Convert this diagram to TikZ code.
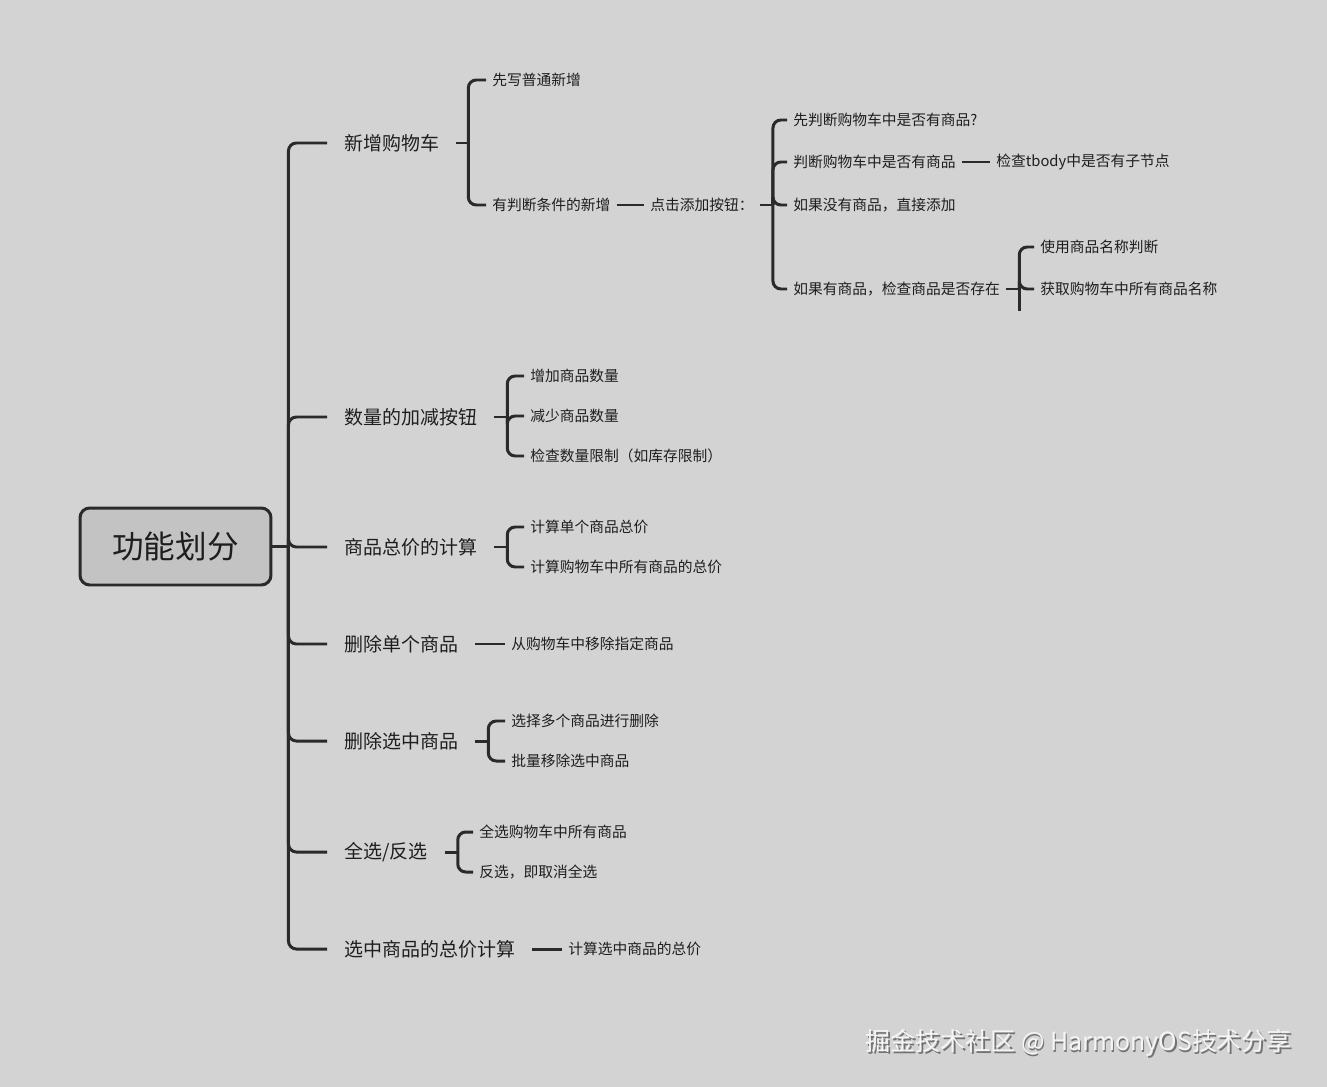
\documentclass[tikz,border=0pt]{standalone}
\usepackage{fontspec}
\setmainfont{Noto Sans CJK SC}
\usetikzlibrary{positioning}
\definecolor{bgGray}{HTML}{D3D3D3}
\definecolor{rootGray}{HTML}{C3C3C3}
\definecolor{lineDark}{HTML}{2A2A2A}
\definecolor{textDark}{HTML}{1E1E1E}

\begin{document}
\begin{tikzpicture}[x=0.02cm,y=-0.02cm,
  conn/.style={draw=lineDark,line width=1.7pt,rounded corners=4.5pt},
  rootbox/.style={draw=lineDark,line width=1.7pt,fill=rootGray,rounded corners=5.5pt,
    minimum width=3.82cm,minimum height=1.54cm,font=\fontsize{18}{20}\selectfont,text=textDark},
  topic/.style={anchor=west,inner xsep=9.6pt,inner ysep=2pt,font=\fontsize{10.8}{12}\selectfont,text=textDark},
  leaf/.style={anchor=west,inner xsep=3.4pt,inner ysep=2pt,font=\fontsize{8.4}{10}\selectfont,text=textDark}]
  \fill[bgGray] (0,0) rectangle (1327,1087);
  \useasboundingbox (0,0) rectangle (1327,1087);

  \node[rootbox] (root) at (175.5,546.5) {功能划分};

  % main branches
  \foreach \n/\y/\t in {t1/143/新增购物车,t2/417/数量的加减按钮,t3/547/商品总价的计算,
      t4/644/删除单个商品,t5/741/删除选中商品,t6/852/{全选/反选},t7/949/选中商品的总价计算}
    \node[topic] (\n) at (327,\y) {\t};
  \draw[conn] (root.east) -- ++(16,0) coordinate (trunk);
  \foreach \n in {t1,t2,t3,t4,t5,t6,t7}
    \draw[conn] (trunk) |- (\n.west);

  % 新增购物车
  \node[leaf] (a1) at (486,80) {先写普通新增};
  \node[leaf] (a2) at (486,205) {有判断条件的新增};
  \node[leaf] (a3) at (644,205) {点击添加按钮：};
  \node[leaf] (a4) at (787,120) {先判断购物车中是否有商品?};
  \node[leaf] (a5) at (787,162) {判断购物车中是否有商品};
  \node[leaf] (a6) at (990,162) {检查tbody中是否有子节点};
  \node[leaf] (a7) at (787,205) {如果没有商品，直接添加};
  \node[leaf] (a8) at (787,289) {如果有商品，检查商品是否存在};
  \node[leaf] (a9) at (1034,247) {使用商品名称判断};
  \node[leaf] (a10) at (1034,289) {获取购物车中所有商品名称};
  \draw[conn] (t1.east) -- ++(12,0) coordinate (j1);
  \foreach \c in {a1,a2} \draw[conn] (j1) |- (\c.west);
  \draw[conn] (a2.east) -- (a3.west);
  \draw[conn] (a3.east) -- ++(13,0) coordinate (j2);
  \foreach \c in {a4,a5,a7,a8} \draw[conn] (j2) |- (\c.west);
  \draw[conn] (a5.east) -- (a6.west);
  \draw[conn] (a8.east) -- ++(13,0) coordinate (j3);
  \foreach \c in {a9,a10} \draw[conn] (j3) |- (\c.west);
  \coordinate (j3tail) at ([yshift=-0.44cm]j3);
  \draw[conn] (j3) -- (j3tail);

  % 数量的加减按钮
  \node[leaf] (q1) at (524,376) {增加商品数量};
  \node[leaf] (q2) at (524,416) {减少商品数量};
  \node[leaf] (q3) at (524,456) {检查数量限制（如库存限制）};
  \draw[conn] (t2.east) -- ++(13,0) coordinate (j4);
  \foreach \c in {q1,q2,q3} \draw[conn] (j4) |- (\c.west);

  % 商品总价的计算
  \node[leaf] (s1) at (524,527) {计算单个商品总价};
  \node[leaf] (s2) at (524,567) {计算购物车中所有商品的总价};
  \draw[conn] (t3.east) -- ++(13,0) coordinate (j5);
  \foreach \c in {s1,s2} \draw[conn] (j5) |- (\c.west);

  % 删除单个商品
  \node[leaf] (d1) at (505,644) {从购物车中移除指定商品};
  \draw[conn] (t4.east) -- (d1.west);

  % 删除选中商品
  \node[leaf] (m1) at (505,721) {选择多个商品进行删除};
  \node[leaf] (m2) at (505,761) {批量移除选中商品};
  \draw[conn] (t5.east) -- ++(13,0) coordinate (j6);
  \foreach \c in {m1,m2} \draw[conn] (j6) |- (\c.west);

  % 全选/反选
  \node[leaf] (v1) at (473,832) {全选购物车中所有商品};
  \node[leaf] (v2) at (473,872) {反选，即取消全选};
  \draw[conn] (t6.east) -- ++(13,0) coordinate (j7);
  \foreach \c in {v1,v2} \draw[conn] (j7) |- (\c.west);

  % 选中商品的总价计算
  \node[leaf] (w1) at (562,949) {计算选中商品的总价};
  \draw[conn] (t7.east) -- (w1.west);

  % watermark
  \node[anchor=east,font=\fontsize{14.2}{15}\selectfont,text=black!55] (markshadow) at (1299.5,1044.5)
    {掘金技术社区 @ HarmonyOS技术分享};
  \node[anchor=east,font=\fontsize{14.2}{15}\selectfont,text=white!92!gray] (mark) at (1298,1043)
    {掘金技术社区 @ HarmonyOS技术分享};
\end{tikzpicture}
\end{document}
